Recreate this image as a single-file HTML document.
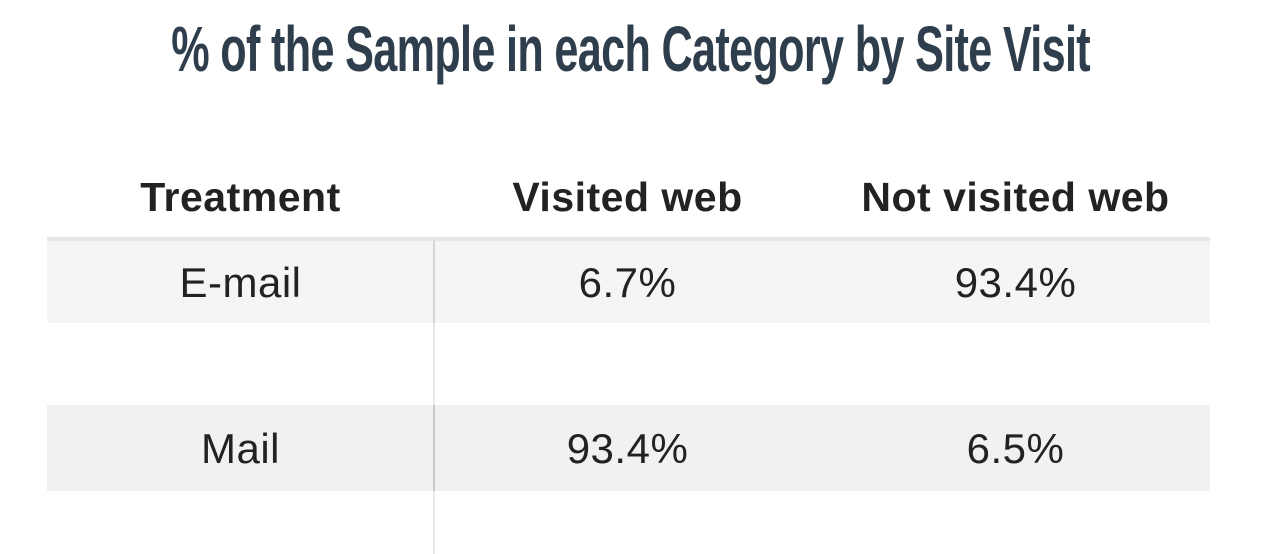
<!DOCTYPE html>
<html><head><meta charset="utf-8"><style>
body{margin:0;width:1268px;height:554px;background:#fff;position:relative;overflow:hidden;font-family:"Liberation Sans",sans-serif}
.title{position:absolute;left:-50px;width:1268px;top:12px;text-align:center;font-size:64px;font-weight:bold;color:#2f3e4c;letter-spacing:-1px}
.title span{display:inline-block;transform:scaleX(0.675);transform-origin:center;white-space:nowrap}
.row{position:absolute;left:47px;width:1163px}
.cell{position:absolute;top:0;width:387px;text-align:center;color:#222}
.hd .cell{font-weight:bold;font-size:41px;color:#222;top:174px;letter-spacing:0.5px}
.vline{position:absolute;left:433px;width:2px}
.d{font-size:42px;letter-spacing:0.5px}
</style></head><body>
<div class="title"><span>% of the Sample in each Category by Site Visit</span></div>
<div class="hd">
 <div class="cell" style="left:47px">Treatment</div>
 <div class="cell" style="left:434px">Visited web</div>
 <div class="cell" style="left:822px">Not visited web</div>
</div>
<div class="row" style="top:237px;height:4px;background:#e6e6e6"></div>
<div class="row" style="top:241px;height:82px;background:#f5f5f5">
 <div class="cell d" style="left:0;line-height:84px">E-mail</div>
 <div class="cell d" style="left:387px;line-height:84px">6.7%</div>
 <div class="cell d" style="left:775px;line-height:84px">93.4%</div>
</div>
<div class="row" style="top:323px;height:82px;background:#fff"></div>
<div class="row" style="top:405px;height:86px;background:#f1f1f1">
 <div class="cell d" style="left:0;line-height:88px">Mail</div>
 <div class="cell d" style="left:387px;line-height:88px">93.4%</div>
 <div class="cell d" style="left:775px;line-height:88px">6.5%</div>
</div>
<div class="vline" style="top:241px;height:82px;background:#d6d6d6"></div>
<div class="vline" style="top:323px;height:82px;background:#e8e8e8"></div>
<div class="vline" style="top:405px;height:86px;background:#c8c8c8"></div>
<div class="vline" style="top:491px;height:63px;background:#e8e8e8"></div>
</body></html>
